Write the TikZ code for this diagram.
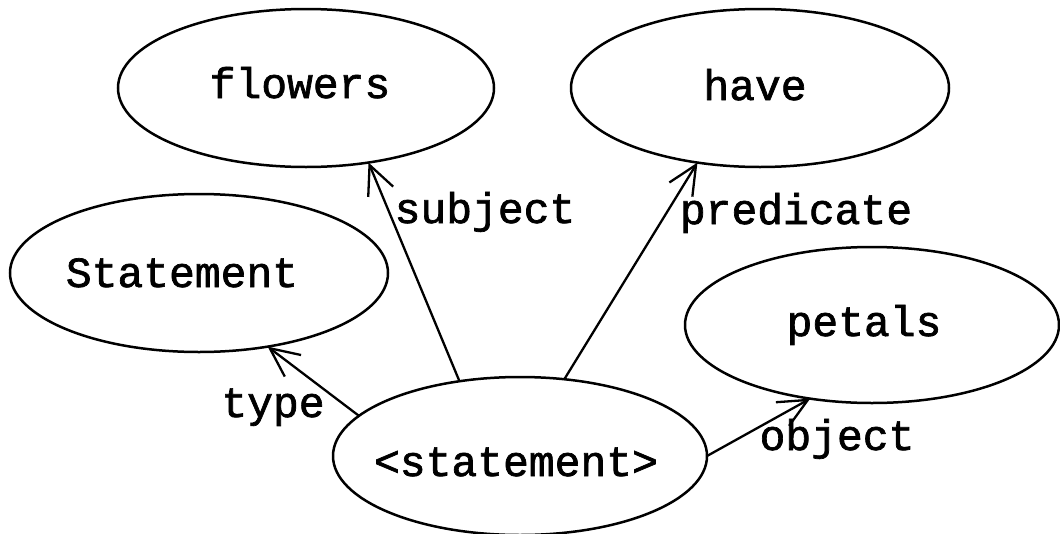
\documentclass[tikz,border=0pt]{standalone}
\usepackage{fontspec}
\newfontfamily\courfont{Liberation Mono}[FakeBold=1.6]
\usetikzlibrary{shapes.geometric,arrows.meta}
\tikzset{
  bubble/.style={draw, ellipse, line width=2.5pt, inner sep=0pt, outer sep=0pt, minimum width=376pt, minimum height=158pt},
  word/.style={anchor=base, inner sep=0pt, font=\courfont\fontsize{43}{50}\selectfont},
  link/.style={line width=2.3pt, -{Straight Barb[length=29pt,width=27pt,line width=2.3pt]}}
}
\begin{document}
\begin{tikzpicture}[x=1pt,y=-1pt]
\useasboundingbox (0,0) rectangle (1060,533);
% ellipses
\node[bubble] (flowers) at (306,88) {};
\node[bubble, minimum width=378pt] (have) at (760,88) {};
\node[bubble, minimum width=378pt] (Statement) at (199,273) {};
\node[bubble, minimum width=374pt, minimum height=156pt] (petals) at (872,325) {};
\node[bubble, minimum width=374pt] (stmt) at (520,456) {};
% texts
\node[word] (flowers-t) at (300,98) {flowers};
\node[word] (have-t) at (755,100) {have};
\node[word] (Statement-t) at (182,287) {Statement};
\node[word] (petals-t) at (864,336) {petals};
\node[word] (stmt-t) at (516,476) {<statement>};
% connectors
\draw[link] (stmt.166.5) -- (Statement.-47);
\draw[link] (stmt.129) -- (flowers.-50);
\draw[link] (stmt.60) -- (have.-130);
\draw[link] (stmt.0) -- (petals.-130);
% connector labels
\node[word] (type-l) at (273,417) {type};
\node[word] (subject-l) at (485,223) {subject};
\node[word] (predicate-l) at (796,224) {predicate};
\node[word] (object-l) at (837,450) {object};
\end{tikzpicture}
\end{document}
